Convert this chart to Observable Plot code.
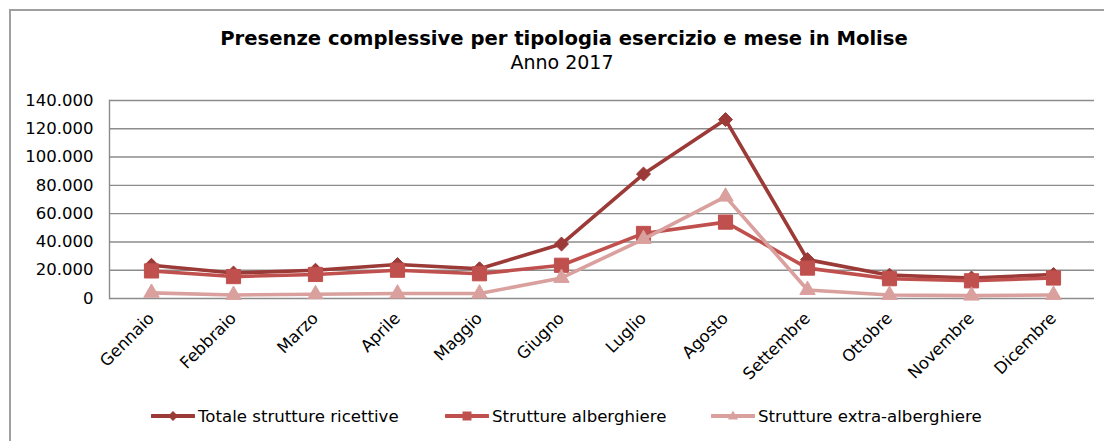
<!DOCTYPE html>
<html>
<head>
<meta charset="utf-8">
<script src="https://cdn.jsdelivr.net/npm/d3@7"></script>
<script src="https://cdn.jsdelivr.net/npm/@observablehq/plot@0.6"></script>
<style>
  html, body { margin: 0; padding: 0; background: #fff; }
  body { font-family: "DejaVu Sans", Verdana, sans-serif; }
  #wrap { position: relative; width: 1104px; height: 441px; overflow: hidden; background: #fff; }
  #border { position: absolute; left: 9px; top: 9px; width: 1200px; height: 600px; border: 2px solid #a0a0a0; box-sizing: border-box; }
  #title { position: absolute; left: 0; top: 28px; width: 1128px; text-align: center; font-weight: bold; font-size: 19.6px; line-height: 22px; color: #000; }
  #subtitle { position: absolute; left: 0; top: 51px; width: 1124px; text-align: center; font-size: 19px; line-height: 22px; color: #000; }
  #chart { position: absolute; left: 0; top: 80px; }
  #legend { position: absolute; left: 0; top: 404px; width: 1104px; height: 24px; font-size: 16.6px; color: #000; }
  .item { position: absolute; top: 0; display: flex; align-items: center; height: 24px; white-space: nowrap; }
  .item svg { margin-right: 3px; }
</style>
</head>
<body>
<div id="wrap">
  <div id="border"></div>
  <div id="title">Presenze complessive per tipologia esercizio e mese in Molise</div>
  <div id="subtitle">Anno 2017</div>
  <div id="chart"></div>
  <div id="legend"></div>
</div>
<script>
const months = ["Gennaio", "Febbraio", "Marzo", "Aprile", "Maggio", "Giugno", "Luglio", "Agosto", "Settembre", "Ottobre", "Novembre", "Dicembre"];
const seriesNames = ["Totale strutture ricettive", "Strutture alberghiere", "Strutture extra-alberghiere"];
const totale = [23500, 18000, 20000, 24000, 21000, 38500, 88000, 126500, 27500, 16500, 14500, 17000];
const alberghiere = [19500, 15500, 17000, 20000, 17500, 23500, 46000, 54000, 21500, 14000, 12500, 14500];
const extra = [4000, 2500, 3000, 3500, 3500, 14500, 42000, 72000, 6000, 2500, 2000, 2500];
const yTicks = [0, 20000, 40000, 60000, 80000, 100000, 120000, 140000];
const colors = ["#9b3a37", "#c0504d", "#d9a09e"];
const symbols = ["diamond2", "square", "triangle"];
const radii = [6.3, 8, 5.7];

const values = [totale, alberghiere, extra];
const data = [];
seriesNames.forEach((s, si) => months.forEach((m, i) => data.push({serie: s, mese: m, valore: values[si][i]})));

const itFormat = d3.formatLocale({decimal: ",", thousands: ".", grouping: [3], currency: ["", "€"]}).format(",");

const marks = [
  Plot.ruleY(yTicks, {stroke: "#8c8c8c", strokeWidth: 1.4}),
  Plot.frame({anchor: "left", stroke: "#8c8c8c", strokeWidth: 1.4}),
  Plot.axisY({ticks: yTicks, tickSize: 0, tickPadding: 16, tickFormat: itFormat, fontSize: 16.5, fill: "#000"}),
  Plot.axisX({tickSize: 0, tickPadding: 17, tickRotate: -45, fontSize: 16.5, fill: "#000"})
];
seriesNames.forEach((s, si) => {
  const d = data.filter(r => r.serie === s);
  marks.push(Plot.line(d, {x: "mese", y: "valore", stroke: colors[si], strokeWidth: 3.6, strokeLinejoin: "round"}));
  marks.push(Plot.dot(d, {x: "mese", y: "valore", fill: colors[si], stroke: colors[si], strokeWidth: 1, symbol: symbols[si], r: radii[si]}));
});

const chart = Plot.plot({
  width: 1104,
  height: 318,
  marginTop: 20,
  marginBottom: 100,
  marginLeft: 109,
  marginRight: 10,
  style: {fontFamily: "DejaVu Sans, Verdana, sans-serif", fontSize: "16.5px", color: "#000", background: "transparent", overflow: "visible"},
  x: {type: "point", domain: months, padding: 0.5, label: null},
  y: {domain: [0, 140000], label: null},
  marks
});
document.getElementById("chart").appendChild(chart);

// Legend
const legend = document.getElementById("legend");
const legendX = [151, 445, 711];
const symPaths = [
  "M0,-5L5,0L0,5L-5,0Z",
  "M-4.5,-4.5H4.5V4.5H-4.5Z",
  "M0,-5.5L5,3.5H-5Z"
];
seriesNames.forEach((s, si) => {
  const item = document.createElement("div");
  item.className = "item";
  item.style.left = legendX[si] + "px";
  item.innerHTML = `<svg width="44" height="14" viewBox="0 0 44 14"><line x1="1" y1="7" x2="43" y2="7" stroke="${colors[si]}" stroke-width="4" stroke-linecap="round"/><path transform="translate(22,7)" d="${symPaths[si]}" fill="${colors[si]}"/></svg><span>${s}</span>`;
  legend.appendChild(item);
});
</script>
</body>
</html>
